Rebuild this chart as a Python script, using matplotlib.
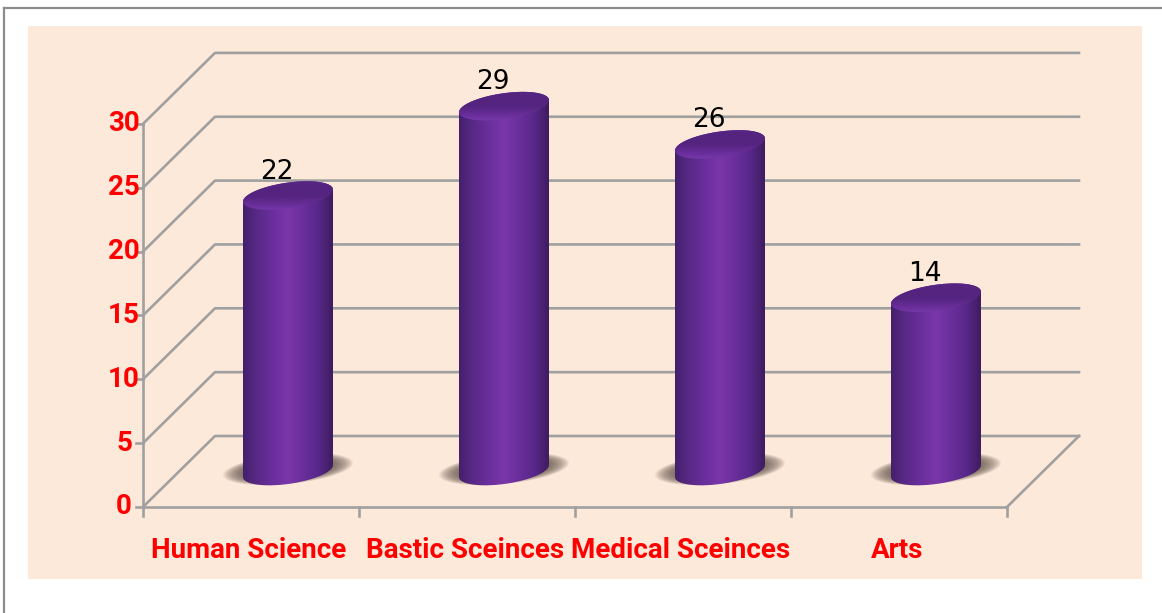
import numpy as np
import matplotlib
matplotlib.use("Agg")
import matplotlib.pyplot as plt
from matplotlib.colors import LinearSegmentedColormap
from matplotlib.patches import Polygon, Rectangle

# chart values
categories = ["Human Science", "Bastic Sceinces", "Medical Sceinces", "Arts"]
values = [22, 29, 26, 14]
y_ticks = [0, 5, 10, 15, 20, 25, 30]

# pixel layout of the reference
W, H = 1162, 613
X0, X_UNIT = 143, 216
Y0, Y_UNIT = 507, 12.77
DEPTH_X = 72 / X_UNIT
DEPTH_Y = 71 / Y_UNIT
GRID = "#a0a0a0"
FONT = ["Liberation Sans Narrow", "Roboto", "DejaVu Sans"]

fig = plt.figure(figsize=(W / 100, H / 100), dpi=100, facecolor="white")
ax = fig.add_axes([0, 0, 1, 1])
ax.axis("off")
xlim = (-X0 / X_UNIT, (W - X0) / X_UNIT)
ylim = ((Y0 - H) / Y_UNIT, Y0 / Y_UNIT)


# convert a pixel length to data units
def px_x(p):
    return p / X_UNIT


def px_y(p):
    return p / Y_UNIT


# outer frame and peach panel are figure furniture, placed in figure pixels
def add_frame():
    fig.add_artist(plt.Line2D([4 / W, 4 / W], [0, 1 - 8 / H], color="#8c8c8c", lw=1.6))
    fig.add_artist(plt.Line2D([4 / W, 1], [1 - 8 / H, 1 - 8 / H], color="#8c8c8c", lw=1.6))
    fig.add_artist(Rectangle((28 / W, 1 - 579 / H), 1114 / W, 553 / H,
                             transform=fig.transFigure, color="#fde9d9", lw=0, zorder=-1))


# wall, floor and axis lines
def draw_axes():
    n = len(categories)
    for v in y_ticks:
        ax.plot([0, DEPTH_X, n + DEPTH_X], [v, v + DEPTH_Y, v + DEPTH_Y], color=GRID, lw=1.9, zorder=1)
        ax.plot([-px_x(7), 0], [v, v], color=GRID, lw=1.9, zorder=1)
        ax.text(-px_x(19), v, str(v), color="red", fontsize=20, fontweight="bold",
                family=FONT, ha="center", va="center")
    ax.plot([0, 0], [0, y_ticks[-1]], color=GRID, lw=1.9, zorder=1)
    ax.plot([0, n], [0, 0], color=GRID, lw=1.9, zorder=1)
    ax.plot([n, n + DEPTH_X], [0, DEPTH_Y], color=GRID, lw=1.9, zorder=1)
    for i in range(n + 1):
        ax.plot([i, i], [0, -px_y(9)], color=GRID, lw=1.9, zorder=1)
    for i, name in enumerate(categories):
        ax.text(i + 0.49, -px_y(43), name, color="red", fontsize=20, fontweight="bold",
                family=FONT, ha="center", va="center")


# points round a tilted ellipse, t in radians
def ellipse(cx, cy, a, b, tilt, t):
    return np.column_stack([cx + a * np.cos(t), cy + b * np.sin(t) + tilt * np.cos(t)])


def gradient_fill(path_pts, extent, cmap, vertical=False, zorder=3):
    ramp = np.linspace(0, 1, 256)
    img = ramp[:, None] if vertical else ramp[None, :]
    im = ax.imshow(img, extent=extent, cmap=cmap, aspect="auto", origin="lower", zorder=zorder)
    im.set_clip_path(Polygon(path_pts, closed=True, transform=ax.transData))


body_cmap = LinearSegmentedColormap.from_list(
    "body", ["#44206b", "#5a2a88", "#6a2f9c", "#7a36a8", "#6a2f9c", "#58288a", "#3f1c60"])
top_cmap = LinearSegmentedColormap.from_list(
    "top", ["#7f40b4", "#6a2f9c", "#54247f", "#54247f", "#5b2888"])


# one cylinder with its soft floor shadow
def draw_cylinder(i, value):
    cx = i + 0.5 + px_x(37)
    a = px_x(45)
    b = px_y(13)
    tilt = px_y(6)
    lift = px_y(35)
    base = px_y(1) + lift - px_y(0)
    top = value + lift - px_y(4.5)

    # shadow, stacked see-through ellipses
    t = np.linspace(0, 2 * np.pi, 80)
    for s in np.linspace(1.0, 0.72, 14):
        pts = ellipse(cx + px_x(0), base + px_y(2), px_x(65) * s, px_y(15) * s, px_y(6) * s, t)
        ax.add_patch(Polygon(pts, closed=True, color="#5f5348", alpha=0.09, lw=0, zorder=2))

    # body: lower half of bottom ellipse, then up the sides
    lower = ellipse(cx, base, a, b, tilt, np.linspace(np.pi, 2 * np.pi, 60))
    upper = ellipse(cx, top, a, b, tilt, np.linspace(0, np.pi, 60))
    gradient_fill(np.vstack([lower, upper]), (cx - a, cx + a, base - b - tilt, top + b + tilt), body_cmap)

    # cap
    cap = ellipse(cx, top, a, b, tilt, t)
    gradient_fill(cap, (cx - a, cx + a, top - b - tilt, top + b + tilt), top_cmap, vertical=True, zorder=4)

    ax.text(i + 0.5 + px_x(26), value + lift - px_y(4.5) + px_y(24), str(value), color="black",
            fontsize=19, family=["Liberation Sans Narrow", "DejaVu Sans"],
            ha="center", va="center", zorder=5)


add_frame()
draw_axes()
for i, v in enumerate(values):
    draw_cylinder(i, v)

ax.set_xlim(*xlim)
ax.set_ylim(*ylim)
fig.savefig("out.png", dpi=100)
